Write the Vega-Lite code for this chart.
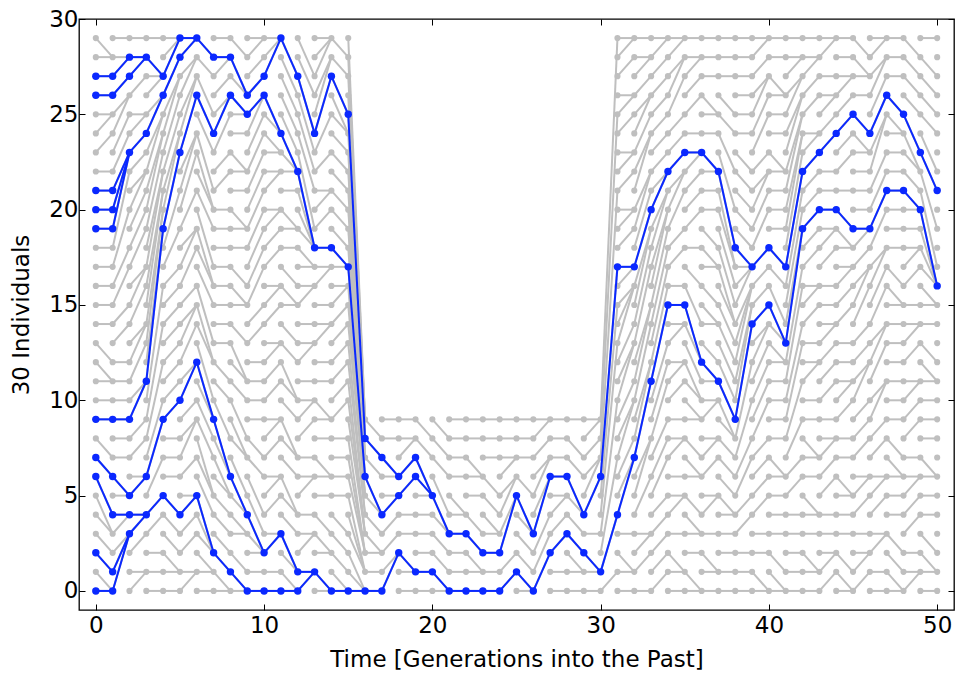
{
"$schema": "https://vega.github.io/schema/vega-lite/v6.json",
"width": 875, "height": 591,
"autosize": {"type": "none"},
"padding": {"left": 79, "top": 19, "right": 2, "bottom": 67},
"background": "white",
"config": {
 "view": {"stroke": "black", "strokeWidth": 1.3},
 "axis": {"labelFont": "DejaVu Sans", "titleFont": "DejaVu Sans", "labelFontSize": 23, "titleFontSize": 23, "titleFontWeight": "normal", "labelColor": "black", "titleColor": "black", "tickColor": "black", "domain": false, "grid": false, "tickWidth": 1}
},
"datasets": {
"gray": [
{"t":0,"i":0,"u":1,"p":0},{"t":0,"i":1,"u":1,"p":0},{"t":0,"i":2,"u":1,"p":1},{"t":0,"i":3,"u":1,"p":2},{"t":0,"i":4,"u":1,"p":3},{"t":0,"i":5,"u":1,"p":3},{"t":0,"i":6,"u":1,"p":4},{"t":0,"i":7,"u":1,"p":6},{"t":0,"i":8,"u":1,"p":7},{"t":0,"i":9,"u":1,"p":9},{"t":0,"i":10,"u":1,"p":10},{"t":0,"i":11,"u":1,"p":11},{"t":0,"i":12,"u":1,"p":11},{"t":0,"i":13,"u":1,"p":12},{"t":0,"i":14,"u":1,"p":14},{"t":0,"i":15,"u":1,"p":15},{"t":0,"i":16,"u":1,"p":16},{"t":0,"i":17,"u":1,"p":17},{"t":0,"i":18,"u":1,"p":18},{"t":0,"i":19,"u":1,"p":19},{"t":0,"i":20,"u":1,"p":20},{"t":0,"i":21,"u":1,"p":21},{"t":0,"i":22,"u":1,"p":22},{"t":0,"i":23,"u":1,"p":24},{"t":0,"i":24,"u":1,"p":25},{"t":0,"i":25,"u":1,"p":25},{"t":0,"i":26,"u":1,"p":26},{"t":0,"i":27,"u":1,"p":27},{"t":0,"i":28,"u":1,"p":28},{"t":0,"i":29,"u":1,"p":28},
{"t":1,"i":0,"u":2,"p":3},{"t":1,"i":1,"u":2,"p":3},{"t":1,"i":2,"u":2,"p":3},{"t":1,"i":3,"u":2,"p":4},{"t":1,"i":4,"u":2,"p":4},{"t":1,"i":5,"u":2,"p":5},{"t":1,"i":6,"u":2,"p":5},{"t":1,"i":7,"u":2,"p":7},{"t":1,"i":8,"u":2,"p":8},{"t":1,"i":9,"u":2,"p":9},{"t":1,"i":10,"u":2,"p":10},{"t":1,"i":11,"u":2,"p":11},{"t":1,"i":12,"u":2,"p":12},{"t":1,"i":13,"u":2,"p":14},{"t":1,"i":14,"u":2,"p":15},{"t":1,"i":15,"u":2,"p":17},{"t":1,"i":16,"u":2,"p":18},{"t":1,"i":17,"u":2,"p":20},{"t":1,"i":18,"u":2,"p":22},{"t":1,"i":19,"u":2,"p":23},{"t":1,"i":20,"u":2,"p":23},{"t":1,"i":21,"u":2,"p":23},{"t":1,"i":22,"u":2,"p":24},{"t":1,"i":23,"u":2,"p":25},{"t":1,"i":24,"u":2,"p":26},{"t":1,"i":25,"u":2,"p":26},{"t":1,"i":26,"u":2,"p":27},{"t":1,"i":27,"u":2,"p":28},{"t":1,"i":28,"u":2,"p":28},{"t":1,"i":29,"u":2,"p":29},
{"t":2,"i":0,"u":3,"p":1},{"t":2,"i":1,"u":3,"p":1},{"t":2,"i":2,"u":3,"p":3},{"t":2,"i":3,"u":3,"p":4},{"t":2,"i":4,"u":3,"p":4},{"t":2,"i":5,"u":3,"p":6},{"t":2,"i":6,"u":3,"p":6},{"t":2,"i":7,"u":3,"p":8},{"t":2,"i":8,"u":3,"p":9},{"t":2,"i":9,"u":3,"p":11},{"t":2,"i":10,"u":3,"p":11},{"t":2,"i":11,"u":3,"p":13},{"t":2,"i":12,"u":3,"p":14},{"t":2,"i":13,"u":3,"p":14},{"t":2,"i":14,"u":3,"p":16},{"t":2,"i":15,"u":3,"p":17},{"t":2,"i":16,"u":3,"p":17},{"t":2,"i":17,"u":3,"p":19},{"t":2,"i":18,"u":3,"p":20},{"t":2,"i":19,"u":3,"p":21},{"t":2,"i":20,"u":3,"p":22},{"t":2,"i":21,"u":3,"p":22},{"t":2,"i":22,"u":3,"p":23},{"t":2,"i":23,"u":3,"p":24},{"t":2,"i":24,"u":3,"p":25},{"t":2,"i":25,"u":3,"p":25},{"t":2,"i":26,"u":3,"p":27},{"t":2,"i":27,"u":3,"p":28},{"t":2,"i":28,"u":3,"p":28},{"t":2,"i":29,"u":3,"p":29},
{"t":3,"i":0,"u":4,"p":0},{"t":3,"i":1,"u":4,"p":1},{"t":3,"i":2,"u":4,"p":2},{"t":3,"i":3,"u":4,"p":4},{"t":3,"i":4,"u":4,"p":5},{"t":3,"i":5,"u":4,"p":7},{"t":3,"i":6,"u":4,"p":9},{"t":3,"i":7,"u":4,"p":10},{"t":3,"i":8,"u":4,"p":12},{"t":3,"i":9,"u":4,"p":14},{"t":3,"i":10,"u":4,"p":16},{"t":3,"i":11,"u":4,"p":19},{"t":3,"i":12,"u":4,"p":19},{"t":3,"i":13,"u":4,"p":20},{"t":3,"i":14,"u":4,"p":20},{"t":3,"i":15,"u":4,"p":21},{"t":3,"i":16,"u":4,"p":21},{"t":3,"i":17,"u":4,"p":22},{"t":3,"i":18,"u":4,"p":22},{"t":3,"i":19,"u":4,"p":23},{"t":3,"i":20,"u":4,"p":24},{"t":3,"i":21,"u":4,"p":24},{"t":3,"i":22,"u":4,"p":25},{"t":3,"i":23,"u":4,"p":25},{"t":3,"i":24,"u":4,"p":26},{"t":3,"i":25,"u":4,"p":26},{"t":3,"i":26,"u":4,"p":27},{"t":3,"i":27,"u":4,"p":27},{"t":3,"i":28,"u":4,"p":27},{"t":3,"i":29,"u":4,"p":29},
{"t":4,"i":0,"u":5,"p":0},{"t":4,"i":1,"u":5,"p":1},{"t":4,"i":2,"u":5,"p":1},{"t":4,"i":3,"u":5,"p":2},{"t":4,"i":4,"u":5,"p":3},{"t":4,"i":5,"u":5,"p":4},{"t":4,"i":6,"u":5,"p":6},{"t":4,"i":7,"u":5,"p":7},{"t":4,"i":8,"u":5,"p":8},{"t":4,"i":9,"u":5,"p":10},{"t":4,"i":10,"u":5,"p":11},{"t":4,"i":11,"u":5,"p":12},{"t":4,"i":12,"u":5,"p":13},{"t":4,"i":13,"u":5,"p":14},{"t":4,"i":14,"u":5,"p":15},{"t":4,"i":15,"u":5,"p":16},{"t":4,"i":16,"u":5,"p":17},{"t":4,"i":17,"u":5,"p":19},{"t":4,"i":18,"u":5,"p":21},{"t":4,"i":19,"u":5,"p":23},{"t":4,"i":20,"u":5,"p":24},{"t":4,"i":21,"u":5,"p":24},{"t":4,"i":22,"u":5,"p":25},{"t":4,"i":23,"u":5,"p":26},{"t":4,"i":24,"u":5,"p":27},{"t":4,"i":25,"u":5,"p":27},{"t":4,"i":26,"u":5,"p":28},{"t":4,"i":27,"u":5,"p":29},{"t":4,"i":28,"u":5,"p":29},{"t":4,"i":29,"u":5,"p":29},
{"t":5,"i":0,"u":6,"p":1},{"t":5,"i":1,"u":6,"p":1},{"t":5,"i":2,"u":6,"p":3},{"t":5,"i":3,"u":6,"p":4},{"t":5,"i":4,"u":6,"p":5},{"t":5,"i":5,"u":6,"p":5},{"t":5,"i":6,"u":6,"p":7},{"t":5,"i":7,"u":6,"p":9},{"t":5,"i":8,"u":6,"p":9},{"t":5,"i":9,"u":6,"p":10},{"t":5,"i":10,"u":6,"p":12},{"t":5,"i":11,"u":6,"p":12},{"t":5,"i":12,"u":6,"p":14},{"t":5,"i":13,"u":6,"p":15},{"t":5,"i":14,"u":6,"p":15},{"t":5,"i":15,"u":6,"p":16},{"t":5,"i":16,"u":6,"p":18},{"t":5,"i":17,"u":6,"p":19},{"t":5,"i":18,"u":6,"p":19},{"t":5,"i":19,"u":6,"p":21},{"t":5,"i":20,"u":6,"p":23},{"t":5,"i":21,"u":6,"p":24},{"t":5,"i":22,"u":6,"p":24},{"t":5,"i":23,"u":6,"p":26},{"t":5,"i":24,"u":6,"p":27},{"t":5,"i":25,"u":6,"p":27},{"t":5,"i":26,"u":6,"p":28},{"t":5,"i":27,"u":6,"p":28},{"t":5,"i":28,"u":6,"p":29},{"t":5,"i":29,"u":6,"p":29},
{"t":6,"i":0,"u":7,"p":0},{"t":6,"i":1,"u":7,"p":1},{"t":6,"i":2,"u":7,"p":1},{"t":6,"i":3,"u":7,"p":2},{"t":6,"i":4,"u":7,"p":2},{"t":6,"i":5,"u":7,"p":2},{"t":6,"i":6,"u":7,"p":4},{"t":6,"i":7,"u":7,"p":5},{"t":6,"i":8,"u":7,"p":5},{"t":6,"i":9,"u":7,"p":7},{"t":6,"i":10,"u":7,"p":8},{"t":6,"i":11,"u":7,"p":9},{"t":6,"i":12,"u":7,"p":9},{"t":6,"i":13,"u":7,"p":10},{"t":6,"i":14,"u":7,"p":12},{"t":6,"i":15,"u":7,"p":12},{"t":6,"i":16,"u":7,"p":13},{"t":6,"i":17,"u":7,"p":15},{"t":6,"i":18,"u":7,"p":16},{"t":6,"i":19,"u":7,"p":16},{"t":6,"i":20,"u":7,"p":17},{"t":6,"i":21,"u":7,"p":19},{"t":6,"i":22,"u":7,"p":20},{"t":6,"i":23,"u":7,"p":20},{"t":6,"i":24,"u":7,"p":21},{"t":6,"i":25,"u":7,"p":23},{"t":6,"i":26,"u":7,"p":24},{"t":6,"i":27,"u":7,"p":25},{"t":6,"i":28,"u":7,"p":27},{"t":6,"i":29,"u":7,"p":28},
{"t":7,"i":0,"u":8,"p":0},{"t":7,"i":1,"u":8,"p":0},{"t":7,"i":2,"u":8,"p":1},{"t":7,"i":3,"u":8,"p":2},{"t":7,"i":4,"u":8,"p":3},{"t":7,"i":5,"u":8,"p":4},{"t":7,"i":6,"u":8,"p":5},{"t":7,"i":7,"u":8,"p":5},{"t":7,"i":8,"u":8,"p":6},{"t":7,"i":9,"u":8,"p":6},{"t":7,"i":10,"u":8,"p":8},{"t":7,"i":11,"u":8,"p":10},{"t":7,"i":12,"u":8,"p":11},{"t":7,"i":13,"u":8,"p":13},{"t":7,"i":14,"u":8,"p":14},{"t":7,"i":15,"u":8,"p":15},{"t":7,"i":16,"u":8,"p":16},{"t":7,"i":17,"u":8,"p":17},{"t":7,"i":18,"u":8,"p":18},{"t":7,"i":19,"u":8,"p":19},{"t":7,"i":20,"u":8,"p":20},{"t":7,"i":21,"u":8,"p":22},{"t":7,"i":22,"u":8,"p":23},{"t":7,"i":23,"u":8,"p":25},{"t":7,"i":24,"u":8,"p":26},{"t":7,"i":25,"u":8,"p":26},{"t":7,"i":26,"u":8,"p":27},{"t":7,"i":27,"u":8,"p":28},{"t":7,"i":28,"u":8,"p":28},{"t":7,"i":29,"u":8,"p":29},
{"t":8,"i":0,"u":9,"p":0},{"t":8,"i":1,"u":9,"p":0},{"t":8,"i":2,"u":9,"p":1},{"t":8,"i":3,"u":9,"p":3},{"t":8,"i":4,"u":9,"p":3},{"t":8,"i":5,"u":9,"p":4},{"t":8,"i":6,"u":9,"p":4},{"t":8,"i":7,"u":9,"p":5},{"t":8,"i":8,"u":9,"p":7},{"t":8,"i":9,"u":9,"p":7},{"t":8,"i":10,"u":9,"p":8},{"t":8,"i":11,"u":9,"p":10},{"t":8,"i":12,"u":9,"p":11},{"t":8,"i":13,"u":9,"p":11},{"t":8,"i":14,"u":9,"p":13},{"t":8,"i":15,"u":9,"p":15},{"t":8,"i":16,"u":9,"p":15},{"t":8,"i":17,"u":9,"p":16},{"t":8,"i":18,"u":9,"p":18},{"t":8,"i":19,"u":9,"p":19},{"t":8,"i":20,"u":9,"p":19},{"t":8,"i":21,"u":9,"p":21},{"t":8,"i":22,"u":9,"p":22},{"t":8,"i":23,"u":9,"p":22},{"t":8,"i":24,"u":9,"p":24},{"t":8,"i":25,"u":9,"p":25},{"t":8,"i":26,"u":9,"p":25},{"t":8,"i":27,"u":9,"p":26},{"t":8,"i":28,"u":9,"p":26},{"t":8,"i":29,"u":9,"p":28},
{"t":9,"i":0,"u":10,"p":0},{"t":9,"i":1,"u":10,"p":1},{"t":9,"i":2,"u":10,"p":2},{"t":9,"i":3,"u":10,"p":2},{"t":9,"i":4,"u":10,"p":2},{"t":9,"i":5,"u":10,"p":3},{"t":9,"i":6,"u":10,"p":4},{"t":9,"i":7,"u":10,"p":6},{"t":9,"i":8,"u":10,"p":7},{"t":9,"i":9,"u":10,"p":9},{"t":9,"i":10,"u":10,"p":10},{"t":9,"i":11,"u":10,"p":11},{"t":9,"i":12,"u":10,"p":12},{"t":9,"i":13,"u":10,"p":14},{"t":9,"i":14,"u":10,"p":15},{"t":9,"i":15,"u":10,"p":17},{"t":9,"i":16,"u":10,"p":18},{"t":9,"i":17,"u":10,"p":19},{"t":9,"i":18,"u":10,"p":20},{"t":9,"i":19,"u":10,"p":21},{"t":9,"i":20,"u":10,"p":22},{"t":9,"i":21,"u":10,"p":23},{"t":9,"i":22,"u":10,"p":24},{"t":9,"i":23,"u":10,"p":25},{"t":9,"i":24,"u":10,"p":26},{"t":9,"i":25,"u":10,"p":26},{"t":9,"i":26,"u":10,"p":27},{"t":9,"i":27,"u":10,"p":28},{"t":9,"i":28,"u":10,"p":29},{"t":9,"i":29,"u":10,"p":29},
{"t":10,"i":0,"u":11,"p":0},{"t":10,"i":1,"u":11,"p":1},{"t":10,"i":2,"u":11,"p":3},{"t":10,"i":3,"u":11,"p":3},{"t":10,"i":4,"u":11,"p":5},{"t":10,"i":5,"u":11,"p":6},{"t":10,"i":6,"u":11,"p":6},{"t":10,"i":7,"u":11,"p":8},{"t":10,"i":8,"u":11,"p":9},{"t":10,"i":9,"u":11,"p":9},{"t":10,"i":10,"u":11,"p":11},{"t":10,"i":11,"u":11,"p":12},{"t":10,"i":12,"u":11,"p":13},{"t":10,"i":13,"u":11,"p":13},{"t":10,"i":14,"u":11,"p":15},{"t":10,"i":15,"u":11,"p":16},{"t":10,"i":16,"u":11,"p":16},{"t":10,"i":17,"u":11,"p":18},{"t":10,"i":18,"u":11,"p":19},{"t":10,"i":19,"u":11,"p":20},{"t":10,"i":20,"u":11,"p":20},{"t":10,"i":21,"u":11,"p":22},{"t":10,"i":22,"u":11,"p":22},{"t":10,"i":23,"u":11,"p":23},{"t":10,"i":24,"u":11,"p":23},{"t":10,"i":25,"u":11,"p":24},{"t":10,"i":26,"u":11,"p":24},{"t":10,"i":27,"u":11,"p":29},{"t":10,"i":28,"u":11,"p":29},{"t":10,"i":29,"u":11,"p":29},
{"t":11,"i":0,"u":12,"p":0},{"t":11,"i":1,"u":12,"p":0},{"t":11,"i":2,"u":12,"p":1},{"t":11,"i":3,"u":12,"p":1},{"t":11,"i":4,"u":12,"p":3},{"t":11,"i":5,"u":12,"p":4},{"t":11,"i":6,"u":12,"p":4},{"t":11,"i":7,"u":12,"p":6},{"t":11,"i":8,"u":12,"p":7},{"t":11,"i":9,"u":12,"p":7},{"t":11,"i":10,"u":12,"p":9},{"t":11,"i":11,"u":12,"p":10},{"t":11,"i":12,"u":12,"p":10},{"t":11,"i":13,"u":12,"p":12},{"t":11,"i":14,"u":12,"p":13},{"t":11,"i":15,"u":12,"p":15},{"t":11,"i":16,"u":12,"p":15},{"t":11,"i":17,"u":12,"p":16},{"t":11,"i":18,"u":12,"p":18},{"t":11,"i":19,"u":12,"p":19},{"t":11,"i":20,"u":12,"p":19},{"t":11,"i":21,"u":12,"p":21},{"t":11,"i":22,"u":12,"p":22},{"t":11,"i":23,"u":12,"p":22},{"t":11,"i":24,"u":12,"p":22},{"t":11,"i":25,"u":12,"p":23},{"t":11,"i":26,"u":12,"p":24},{"t":11,"i":27,"u":12,"p":25},{"t":11,"i":28,"u":12,"p":26},{"t":11,"i":29,"u":12,"p":27},
{"t":12,"i":0,"u":13,"p":1},{"t":12,"i":1,"u":13,"p":1},{"t":12,"i":2,"u":13,"p":3},{"t":12,"i":3,"u":13,"p":3},{"t":12,"i":4,"u":13,"p":4},{"t":12,"i":5,"u":13,"p":6},{"t":12,"i":6,"u":13,"p":6},{"t":12,"i":7,"u":13,"p":7},{"t":12,"i":8,"u":13,"p":9},{"t":12,"i":9,"u":13,"p":10},{"t":12,"i":10,"u":13,"p":10},{"t":12,"i":11,"u":13,"p":11},{"t":12,"i":12,"u":13,"p":13},{"t":12,"i":13,"u":13,"p":13},{"t":12,"i":14,"u":13,"p":14},{"t":12,"i":15,"u":13,"p":16},{"t":12,"i":16,"u":13,"p":16},{"t":12,"i":17,"u":13,"p":17},{"t":12,"i":18,"u":13,"p":17},{"t":12,"i":19,"u":13,"p":18},{"t":12,"i":20,"u":13,"p":18},{"t":12,"i":21,"u":13,"p":18},{"t":12,"i":22,"u":13,"p":18},{"t":12,"i":23,"u":13,"p":19},{"t":12,"i":24,"u":13,"p":21},{"t":12,"i":25,"u":13,"p":22},{"t":12,"i":26,"u":13,"p":23},{"t":12,"i":27,"u":13,"p":24},{"t":12,"i":28,"u":13,"p":26},{"t":12,"i":29,"u":13,"p":27},
{"t":13,"i":0,"u":14,"p":0},{"t":13,"i":1,"u":14,"p":0},{"t":13,"i":2,"u":14,"p":2},{"t":13,"i":3,"u":14,"p":2},{"t":13,"i":4,"u":14,"p":3},{"t":13,"i":5,"u":14,"p":5},{"t":13,"i":6,"u":14,"p":6},{"t":13,"i":7,"u":14,"p":6},{"t":13,"i":8,"u":14,"p":8},{"t":13,"i":9,"u":14,"p":9},{"t":13,"i":10,"u":14,"p":9},{"t":13,"i":11,"u":14,"p":11},{"t":13,"i":12,"u":14,"p":12},{"t":13,"i":13,"u":14,"p":14},{"t":13,"i":14,"u":14,"p":14},{"t":13,"i":15,"u":14,"p":15},{"t":13,"i":16,"u":14,"p":17},{"t":13,"i":17,"u":14,"p":17},{"t":13,"i":18,"u":14,"p":18},{"t":13,"i":19,"u":14,"p":20},{"t":13,"i":20,"u":14,"p":21},{"t":13,"i":21,"u":14,"p":21},{"t":13,"i":22,"u":14,"p":23},{"t":13,"i":23,"u":14,"p":25},{"t":13,"i":24,"u":14,"p":27},{"t":13,"i":25,"u":14,"p":28},{"t":13,"i":26,"u":14,"p":28},{"t":13,"i":27,"u":14,"p":29},{"t":13,"i":28,"u":14,"p":29},{"t":13,"i":29,"u":14,"p":29},
{"t":14,"i":0,"u":15,"p":0},{"t":14,"i":1,"u":15,"p":0},{"t":14,"i":2,"u":15,"p":1},{"t":14,"i":3,"u":15,"p":2},{"t":14,"i":4,"u":15,"p":3},{"t":14,"i":5,"u":15,"p":5},{"t":14,"i":6,"u":15,"p":6},{"t":14,"i":7,"u":15,"p":7},{"t":14,"i":8,"u":15,"p":8},{"t":14,"i":9,"u":15,"p":10},{"t":14,"i":10,"u":15,"p":11},{"t":14,"i":11,"u":15,"p":12},{"t":14,"i":12,"u":15,"p":13},{"t":14,"i":13,"u":15,"p":14},{"t":14,"i":14,"u":15,"p":15},{"t":14,"i":15,"u":15,"p":16},{"t":14,"i":16,"u":15,"p":16},{"t":14,"i":17,"u":15,"p":17},{"t":14,"i":18,"u":15,"p":17},{"t":14,"i":19,"u":15,"p":18},{"t":14,"i":20,"u":15,"p":19},{"t":14,"i":21,"u":15,"p":20},{"t":14,"i":22,"u":15,"p":21},{"t":14,"i":23,"u":15,"p":22},{"t":14,"i":24,"u":15,"p":23},{"t":14,"i":25,"u":15,"p":24},{"t":14,"i":26,"u":15,"p":24},{"t":14,"i":27,"u":15,"p":25},{"t":14,"i":28,"u":15,"p":27},{"t":14,"i":29,"u":15,"p":28},
{"t":15,"i":0,"u":16,"p":0},{"t":15,"i":1,"u":16,"p":0},{"t":15,"i":2,"u":16,"p":0},{"t":15,"i":3,"u":16,"p":1},{"t":15,"i":4,"u":16,"p":1},{"t":15,"i":5,"u":16,"p":1},{"t":15,"i":6,"u":16,"p":2},{"t":15,"i":7,"u":16,"p":2},{"t":15,"i":8,"u":16,"p":2},{"t":15,"i":9,"u":16,"p":3},{"t":15,"i":10,"u":16,"p":3},{"t":15,"i":11,"u":16,"p":3},{"t":15,"i":12,"u":16,"p":4},{"t":15,"i":13,"u":16,"p":4},{"t":15,"i":14,"u":16,"p":5},{"t":15,"i":15,"u":16,"p":5},{"t":15,"i":16,"u":16,"p":5},{"t":15,"i":17,"u":16,"p":6},{"t":15,"i":18,"u":16,"p":6},{"t":15,"i":19,"u":16,"p":6},{"t":15,"i":20,"u":16,"p":7},{"t":15,"i":21,"u":16,"p":7},{"t":15,"i":22,"u":16,"p":7},{"t":15,"i":23,"u":16,"p":7},{"t":15,"i":24,"u":16,"p":8},{"t":15,"i":25,"u":16,"p":8},{"t":15,"i":26,"u":16,"p":8},{"t":15,"i":27,"u":16,"p":9},{"t":15,"i":28,"u":16,"p":9},{"t":15,"i":29,"u":16,"p":9},
{"t":16,"i":0,"u":17,"p":0},{"t":16,"i":1,"u":17,"p":1},{"t":16,"i":2,"u":17,"p":2},{"t":16,"i":3,"u":17,"p":2},{"t":16,"i":4,"u":17,"p":3},{"t":16,"i":5,"u":17,"p":4},{"t":16,"i":6,"u":17,"p":4},{"t":16,"i":7,"u":17,"p":6},{"t":16,"i":8,"u":17,"p":7},{"t":16,"i":9,"u":17,"p":8},
{"t":17,"i":0,"u":18,"p":2},{"t":17,"i":1,"u":18,"p":2},{"t":17,"i":2,"u":18,"p":3},{"t":17,"i":3,"u":18,"p":4},{"t":17,"i":4,"u":18,"p":5},{"t":17,"i":5,"u":18,"p":5},{"t":17,"i":6,"u":18,"p":6},{"t":17,"i":7,"u":18,"p":6},{"t":17,"i":8,"u":18,"p":8},{"t":17,"i":9,"u":18,"p":9},
{"t":18,"i":0,"u":19,"p":0},{"t":18,"i":1,"u":19,"p":1},{"t":18,"i":2,"u":19,"p":1},{"t":18,"i":3,"u":19,"p":3},{"t":18,"i":4,"u":19,"p":4},{"t":18,"i":5,"u":19,"p":6},{"t":18,"i":6,"u":19,"p":7},{"t":18,"i":7,"u":19,"p":8},{"t":18,"i":8,"u":19,"p":8},{"t":18,"i":9,"u":19,"p":9},
{"t":19,"i":0,"u":20,"p":0},{"t":19,"i":1,"u":20,"p":1},{"t":19,"i":2,"u":20,"p":2},{"t":19,"i":3,"u":20,"p":3},{"t":19,"i":4,"u":20,"p":4},{"t":19,"i":5,"u":20,"p":5},{"t":19,"i":6,"u":20,"p":5},{"t":19,"i":7,"u":20,"p":5},{"t":19,"i":8,"u":20,"p":7},{"t":19,"i":9,"u":20,"p":8},
{"t":20,"i":0,"u":21,"p":0},{"t":20,"i":1,"u":21,"p":0},{"t":20,"i":2,"u":21,"p":1},{"t":20,"i":3,"u":21,"p":2},{"t":20,"i":4,"u":21,"p":3},{"t":20,"i":5,"u":21,"p":3},{"t":20,"i":6,"u":21,"p":4},{"t":20,"i":7,"u":21,"p":6},{"t":20,"i":8,"u":21,"p":7},{"t":20,"i":9,"u":21,"p":8},
{"t":21,"i":0,"u":22,"p":0},{"t":21,"i":1,"u":22,"p":1},{"t":21,"i":2,"u":22,"p":2},{"t":21,"i":3,"u":22,"p":3},{"t":21,"i":4,"u":22,"p":4},{"t":21,"i":5,"u":22,"p":4},{"t":21,"i":6,"u":22,"p":6},{"t":21,"i":7,"u":22,"p":7},{"t":21,"i":8,"u":22,"p":8},{"t":21,"i":9,"u":22,"p":9},
{"t":22,"i":0,"u":23,"p":0},{"t":22,"i":1,"u":23,"p":1},{"t":22,"i":2,"u":23,"p":1},{"t":22,"i":3,"u":23,"p":2},{"t":22,"i":4,"u":23,"p":3},{"t":22,"i":5,"u":23,"p":5},{"t":22,"i":6,"u":23,"p":6},{"t":22,"i":7,"u":23,"p":6},{"t":22,"i":8,"u":23,"p":8},{"t":22,"i":9,"u":23,"p":9},
{"t":23,"i":0,"u":24,"p":0},{"t":23,"i":1,"u":24,"p":1},{"t":23,"i":2,"u":24,"p":2},{"t":23,"i":3,"u":24,"p":3},{"t":23,"i":4,"u":24,"p":3},{"t":23,"i":5,"u":24,"p":4},{"t":23,"i":6,"u":24,"p":5},{"t":23,"i":7,"u":24,"p":7},{"t":23,"i":8,"u":24,"p":8},{"t":23,"i":9,"u":24,"p":9},
{"t":24,"i":0,"u":25,"p":1},{"t":24,"i":1,"u":25,"p":2},{"t":24,"i":2,"u":25,"p":5},{"t":24,"i":3,"u":25,"p":5},{"t":24,"i":4,"u":25,"p":6},{"t":24,"i":5,"u":25,"p":6},{"t":24,"i":6,"u":25,"p":7},{"t":24,"i":7,"u":25,"p":7},{"t":24,"i":8,"u":25,"p":8},{"t":24,"i":9,"u":25,"p":9},
{"t":25,"i":0,"u":26,"p":0},{"t":25,"i":1,"u":26,"p":0},{"t":25,"i":2,"u":26,"p":1},{"t":25,"i":3,"u":26,"p":2},{"t":25,"i":4,"u":26,"p":3},{"t":25,"i":5,"u":26,"p":3},{"t":25,"i":6,"u":26,"p":5},{"t":25,"i":7,"u":26,"p":7},{"t":25,"i":8,"u":26,"p":8},{"t":25,"i":9,"u":26,"p":9},
{"t":26,"i":0,"u":27,"p":2},{"t":26,"i":1,"u":27,"p":3},{"t":26,"i":2,"u":27,"p":4},{"t":26,"i":3,"u":27,"p":6},{"t":26,"i":4,"u":27,"p":6},{"t":26,"i":5,"u":27,"p":7},{"t":26,"i":6,"u":27,"p":7},{"t":26,"i":7,"u":27,"p":8},{"t":26,"i":8,"u":27,"p":9},{"t":26,"i":9,"u":27,"p":9},
{"t":27,"i":0,"u":28,"p":0},{"t":27,"i":1,"u":28,"p":1},{"t":27,"i":2,"u":28,"p":3},{"t":27,"i":3,"u":28,"p":4},{"t":27,"i":4,"u":28,"p":5},{"t":27,"i":5,"u":28,"p":5},{"t":27,"i":6,"u":28,"p":6},{"t":27,"i":7,"u":28,"p":7},{"t":27,"i":8,"u":28,"p":8},{"t":27,"i":9,"u":28,"p":9},
{"t":28,"i":0,"u":29,"p":0},{"t":28,"i":1,"u":29,"p":1},{"t":28,"i":2,"u":29,"p":1},{"t":28,"i":3,"u":29,"p":2},{"t":28,"i":4,"u":29,"p":3},{"t":28,"i":5,"u":29,"p":4},{"t":28,"i":6,"u":29,"p":4},{"t":28,"i":7,"u":29,"p":6},{"t":28,"i":8,"u":29,"p":7},{"t":28,"i":9,"u":29,"p":9},
{"t":29,"i":0,"u":30,"p":0},{"t":29,"i":1,"u":30,"p":1},{"t":29,"i":2,"u":30,"p":1},{"t":29,"i":3,"u":30,"p":3},{"t":29,"i":4,"u":30,"p":6},{"t":29,"i":5,"u":30,"p":7},{"t":29,"i":6,"u":30,"p":7},{"t":29,"i":7,"u":30,"p":8},{"t":29,"i":8,"u":30,"p":9},{"t":29,"i":9,"u":30,"p":9},
{"t":30,"i":0,"u":31,"p":1},{"t":30,"i":1,"u":31,"p":4},{"t":30,"i":2,"u":31,"p":7},{"t":30,"i":3,"u":31,"p":10},{"t":30,"i":4,"u":31,"p":13},{"t":30,"i":5,"u":31,"p":15},{"t":30,"i":6,"u":31,"p":17},{"t":30,"i":7,"u":31,"p":21},{"t":30,"i":8,"u":31,"p":25},{"t":30,"i":9,"u":31,"p":29},
{"t":31,"i":0,"u":32,"p":0},{"t":31,"i":1,"u":32,"p":1},{"t":31,"i":2,"u":32,"p":1},{"t":31,"i":3,"u":32,"p":3},{"t":31,"i":4,"u":32,"p":7},{"t":31,"i":5,"u":32,"p":7},{"t":31,"i":6,"u":32,"p":8},{"t":31,"i":7,"u":32,"p":10},{"t":31,"i":8,"u":32,"p":10},{"t":31,"i":9,"u":32,"p":11},{"t":31,"i":10,"u":32,"p":13},{"t":31,"i":11,"u":32,"p":13},{"t":31,"i":12,"u":32,"p":14},{"t":31,"i":13,"u":32,"p":16},{"t":31,"i":14,"u":32,"p":16},{"t":31,"i":15,"u":32,"p":16},{"t":31,"i":16,"u":32,"p":17},{"t":31,"i":17,"u":32,"p":17},{"t":31,"i":18,"u":32,"p":19},{"t":31,"i":19,"u":32,"p":20},{"t":31,"i":20,"u":32,"p":20},{"t":31,"i":21,"u":32,"p":22},{"t":31,"i":22,"u":32,"p":23},{"t":31,"i":23,"u":32,"p":23},{"t":31,"i":24,"u":32,"p":25},{"t":31,"i":25,"u":32,"p":26},{"t":31,"i":26,"u":32,"p":26},{"t":31,"i":27,"u":32,"p":28},{"t":31,"i":28,"u":32,"p":29},{"t":31,"i":29,"u":32,"p":29},
{"t":32,"i":0,"u":33,"p":0},{"t":32,"i":1,"u":33,"p":2},{"t":32,"i":2,"u":33,"p":3},{"t":32,"i":3,"u":33,"p":3},{"t":32,"i":4,"u":33,"p":6},{"t":32,"i":5,"u":33,"p":8},{"t":32,"i":6,"u":33,"p":8},{"t":32,"i":7,"u":33,"p":11},{"t":32,"i":8,"u":33,"p":12},{"t":32,"i":9,"u":33,"p":12},{"t":32,"i":10,"u":33,"p":14},{"t":32,"i":11,"u":33,"p":15},{"t":32,"i":12,"u":33,"p":15},{"t":32,"i":13,"u":33,"p":17},{"t":32,"i":14,"u":33,"p":18},{"t":32,"i":15,"u":33,"p":19},{"t":32,"i":16,"u":33,"p":19},{"t":32,"i":17,"u":33,"p":20},{"t":32,"i":18,"u":33,"p":21},{"t":32,"i":19,"u":33,"p":22},{"t":32,"i":20,"u":33,"p":22},{"t":32,"i":21,"u":33,"p":24},{"t":32,"i":22,"u":33,"p":24},{"t":32,"i":23,"u":33,"p":25},{"t":32,"i":24,"u":33,"p":26},{"t":32,"i":25,"u":33,"p":26},{"t":32,"i":26,"u":33,"p":27},{"t":32,"i":27,"u":33,"p":28},{"t":32,"i":28,"u":33,"p":28},{"t":32,"i":29,"u":33,"p":29},
{"t":33,"i":0,"u":34,"p":1},{"t":33,"i":1,"u":34,"p":2},{"t":33,"i":2,"u":34,"p":3},{"t":33,"i":3,"u":34,"p":4},{"t":33,"i":4,"u":34,"p":5},{"t":33,"i":5,"u":34,"p":7},{"t":33,"i":6,"u":34,"p":8},{"t":33,"i":7,"u":34,"p":9},{"t":33,"i":8,"u":34,"p":11},{"t":33,"i":9,"u":34,"p":12},{"t":33,"i":10,"u":34,"p":13},{"t":33,"i":11,"u":34,"p":15},{"t":33,"i":12,"u":34,"p":16},{"t":33,"i":13,"u":34,"p":17},{"t":33,"i":14,"u":34,"p":18},{"t":33,"i":15,"u":34,"p":19},{"t":33,"i":16,"u":34,"p":20},{"t":33,"i":17,"u":34,"p":20},{"t":33,"i":18,"u":34,"p":21},{"t":33,"i":19,"u":34,"p":21},{"t":33,"i":20,"u":34,"p":22},{"t":33,"i":21,"u":34,"p":22},{"t":33,"i":22,"u":34,"p":23},{"t":33,"i":23,"u":34,"p":24},{"t":33,"i":24,"u":34,"p":25},{"t":33,"i":25,"u":34,"p":26},{"t":33,"i":26,"u":34,"p":27},{"t":33,"i":27,"u":34,"p":28},{"t":33,"i":28,"u":34,"p":29},{"t":33,"i":29,"u":34,"p":29},
{"t":34,"i":0,"u":35,"p":0},{"t":34,"i":1,"u":35,"p":1},{"t":34,"i":2,"u":35,"p":1},{"t":34,"i":3,"u":35,"p":3},{"t":34,"i":4,"u":35,"p":5},{"t":34,"i":5,"u":35,"p":5},{"t":34,"i":6,"u":35,"p":6},{"t":34,"i":7,"u":35,"p":8},{"t":34,"i":8,"u":35,"p":8},{"t":34,"i":9,"u":35,"p":9},{"t":34,"i":10,"u":35,"p":11},{"t":34,"i":11,"u":35,"p":12},{"t":34,"i":12,"u":35,"p":12},{"t":34,"i":13,"u":35,"p":14},{"t":34,"i":14,"u":35,"p":14},{"t":34,"i":15,"u":35,"p":15},{"t":34,"i":16,"u":35,"p":16},{"t":34,"i":17,"u":35,"p":18},{"t":34,"i":18,"u":35,"p":19},{"t":34,"i":19,"u":35,"p":21},{"t":34,"i":20,"u":35,"p":22},{"t":34,"i":21,"u":35,"p":22},{"t":34,"i":22,"u":35,"p":23},{"t":34,"i":23,"u":35,"p":24},{"t":34,"i":24,"u":35,"p":25},{"t":34,"i":25,"u":35,"p":27},{"t":34,"i":26,"u":35,"p":28},{"t":34,"i":27,"u":35,"p":28},{"t":34,"i":28,"u":35,"p":29},{"t":34,"i":29,"u":35,"p":29},
{"t":35,"i":0,"u":36,"p":0},{"t":35,"i":1,"u":36,"p":0},{"t":35,"i":2,"u":36,"p":2},{"t":35,"i":3,"u":36,"p":3},{"t":35,"i":4,"u":36,"p":3},{"t":35,"i":5,"u":36,"p":4},{"t":35,"i":6,"u":36,"p":6},{"t":35,"i":7,"u":36,"p":6},{"t":35,"i":8,"u":36,"p":7},{"t":35,"i":9,"u":36,"p":9},{"t":35,"i":10,"u":36,"p":9},{"t":35,"i":11,"u":36,"p":10},{"t":35,"i":12,"u":36,"p":10},{"t":35,"i":13,"u":36,"p":11},{"t":35,"i":14,"u":36,"p":12},{"t":35,"i":15,"u":36,"p":12},{"t":35,"i":16,"u":36,"p":14},{"t":35,"i":17,"u":36,"p":16},{"t":35,"i":18,"u":36,"p":18},{"t":35,"i":19,"u":36,"p":20},{"t":35,"i":20,"u":36,"p":21},{"t":35,"i":21,"u":36,"p":22},{"t":35,"i":22,"u":36,"p":23},{"t":35,"i":23,"u":36,"p":23},{"t":35,"i":24,"u":36,"p":24},{"t":35,"i":25,"u":36,"p":26},{"t":35,"i":26,"u":36,"p":27},{"t":35,"i":27,"u":36,"p":28},{"t":35,"i":28,"u":36,"p":28},{"t":35,"i":29,"u":36,"p":29},
{"t":36,"i":0,"u":37,"p":0},{"t":36,"i":1,"u":37,"p":1},{"t":36,"i":2,"u":37,"p":1},{"t":36,"i":3,"u":37,"p":3},{"t":36,"i":4,"u":37,"p":5},{"t":36,"i":5,"u":37,"p":5},{"t":36,"i":6,"u":37,"p":7},{"t":36,"i":7,"u":37,"p":8},{"t":36,"i":8,"u":37,"p":8},{"t":36,"i":9,"u":37,"p":10},{"t":36,"i":10,"u":37,"p":10},{"t":36,"i":11,"u":37,"p":11},{"t":36,"i":12,"u":37,"p":11},{"t":36,"i":13,"u":37,"p":12},{"t":36,"i":14,"u":37,"p":14},{"t":36,"i":15,"u":37,"p":14},{"t":36,"i":16,"u":37,"p":15},{"t":36,"i":17,"u":37,"p":17},{"t":36,"i":18,"u":37,"p":17},{"t":36,"i":19,"u":37,"p":18},{"t":36,"i":20,"u":37,"p":20},{"t":36,"i":21,"u":37,"p":21},{"t":36,"i":22,"u":37,"p":22},{"t":36,"i":23,"u":37,"p":22},{"t":36,"i":24,"u":37,"p":24},{"t":36,"i":25,"u":37,"p":25},{"t":36,"i":26,"u":37,"p":25},{"t":36,"i":27,"u":37,"p":27},{"t":36,"i":28,"u":37,"p":28},{"t":36,"i":29,"u":37,"p":29},
{"t":37,"i":0,"u":38,"p":0},{"t":37,"i":1,"u":38,"p":1},{"t":37,"i":2,"u":38,"p":2},{"t":37,"i":3,"u":38,"p":3},{"t":37,"i":4,"u":38,"p":4},{"t":37,"i":5,"u":38,"p":4},{"t":37,"i":6,"u":38,"p":5},{"t":37,"i":7,"u":38,"p":6},{"t":37,"i":8,"u":38,"p":7},{"t":37,"i":9,"u":38,"p":8},{"t":37,"i":10,"u":38,"p":8},{"t":37,"i":11,"u":38,"p":9},{"t":37,"i":12,"u":38,"p":10},{"t":37,"i":13,"u":38,"p":11},{"t":37,"i":14,"u":38,"p":12},{"t":37,"i":15,"u":38,"p":13},{"t":37,"i":16,"u":38,"p":14},{"t":37,"i":17,"u":38,"p":14},{"t":37,"i":18,"u":38,"p":15},{"t":37,"i":19,"u":38,"p":16},{"t":37,"i":20,"u":38,"p":17},{"t":37,"i":21,"u":38,"p":17},{"t":37,"i":22,"u":38,"p":18},{"t":37,"i":23,"u":38,"p":20},{"t":37,"i":24,"u":38,"p":22},{"t":37,"i":25,"u":38,"p":24},{"t":37,"i":26,"u":38,"p":25},{"t":37,"i":27,"u":38,"p":27},{"t":37,"i":28,"u":38,"p":28},{"t":37,"i":29,"u":38,"p":29},
{"t":38,"i":0,"u":39,"p":0},{"t":38,"i":1,"u":39,"p":1},{"t":38,"i":2,"u":39,"p":2},{"t":38,"i":3,"u":39,"p":4},{"t":38,"i":4,"u":39,"p":5},{"t":38,"i":5,"u":39,"p":7},{"t":38,"i":6,"u":39,"p":8},{"t":38,"i":7,"u":39,"p":10},{"t":38,"i":8,"u":39,"p":12},{"t":38,"i":9,"u":39,"p":14},{"t":38,"i":10,"u":39,"p":15},{"t":38,"i":11,"u":39,"p":15},{"t":38,"i":12,"u":39,"p":16},{"t":38,"i":13,"u":39,"p":16},{"t":38,"i":14,"u":39,"p":16},{"t":38,"i":15,"u":39,"p":17},{"t":38,"i":16,"u":39,"p":17},{"t":38,"i":17,"u":39,"p":17},{"t":38,"i":18,"u":39,"p":17},{"t":38,"i":19,"u":39,"p":18},{"t":38,"i":20,"u":39,"p":19},{"t":38,"i":21,"u":39,"p":20},{"t":38,"i":22,"u":39,"p":21},{"t":38,"i":23,"u":39,"p":22},{"t":38,"i":24,"u":39,"p":24},{"t":38,"i":25,"u":39,"p":25},{"t":38,"i":26,"u":39,"p":26},{"t":38,"i":27,"u":39,"p":27},{"t":38,"i":28,"u":39,"p":28},{"t":38,"i":29,"u":39,"p":29},
{"t":39,"i":0,"u":40,"p":0},{"t":39,"i":1,"u":40,"p":0},{"t":39,"i":2,"u":40,"p":2},{"t":39,"i":3,"u":40,"p":3},{"t":39,"i":4,"u":40,"p":5},{"t":39,"i":5,"u":40,"p":6},{"t":39,"i":6,"u":40,"p":7},{"t":39,"i":7,"u":40,"p":8},{"t":39,"i":8,"u":40,"p":10},{"t":39,"i":9,"u":40,"p":11},{"t":39,"i":10,"u":40,"p":12},{"t":39,"i":11,"u":40,"p":13},{"t":39,"i":12,"u":40,"p":14},{"t":39,"i":13,"u":40,"p":14},{"t":39,"i":14,"u":40,"p":15},{"t":39,"i":15,"u":40,"p":16},{"t":39,"i":16,"u":40,"p":17},{"t":39,"i":17,"u":40,"p":18},{"t":39,"i":18,"u":40,"p":20},{"t":39,"i":19,"u":40,"p":21},{"t":39,"i":20,"u":40,"p":22},{"t":39,"i":21,"u":40,"p":22},{"t":39,"i":22,"u":40,"p":23},{"t":39,"i":23,"u":40,"p":25},{"t":39,"i":24,"u":40,"p":26},{"t":39,"i":25,"u":40,"p":27},{"t":39,"i":26,"u":40,"p":27},{"t":39,"i":27,"u":40,"p":28},{"t":39,"i":28,"u":40,"p":29},{"t":39,"i":29,"u":40,"p":29},
{"t":40,"i":0,"u":41,"p":0},{"t":40,"i":1,"u":41,"p":0},{"t":40,"i":2,"u":41,"p":1},{"t":40,"i":3,"u":41,"p":3},{"t":40,"i":4,"u":41,"p":4},{"t":40,"i":5,"u":41,"p":5},{"t":40,"i":6,"u":41,"p":6},{"t":40,"i":7,"u":41,"p":6},{"t":40,"i":8,"u":41,"p":8},{"t":40,"i":9,"u":41,"p":9},{"t":40,"i":10,"u":41,"p":10},{"t":40,"i":11,"u":41,"p":11},{"t":40,"i":12,"u":41,"p":12},{"t":40,"i":13,"u":41,"p":12},{"t":40,"i":14,"u":41,"p":13},{"t":40,"i":15,"u":41,"p":13},{"t":40,"i":16,"u":41,"p":14},{"t":40,"i":17,"u":41,"p":16},{"t":40,"i":18,"u":41,"p":17},{"t":40,"i":19,"u":41,"p":19},{"t":40,"i":20,"u":41,"p":20},{"t":40,"i":21,"u":41,"p":21},{"t":40,"i":22,"u":41,"p":22},{"t":40,"i":23,"u":41,"p":22},{"t":40,"i":24,"u":41,"p":24},{"t":40,"i":25,"u":41,"p":25},{"t":40,"i":26,"u":41,"p":26},{"t":40,"i":27,"u":41,"p":26},{"t":40,"i":28,"u":41,"p":28},{"t":40,"i":29,"u":41,"p":29},
{"t":41,"i":0,"u":42,"p":0},{"t":41,"i":1,"u":42,"p":1},{"t":41,"i":2,"u":42,"p":2},{"t":41,"i":3,"u":42,"p":3},{"t":41,"i":4,"u":42,"p":4},{"t":41,"i":5,"u":42,"p":6},{"t":41,"i":6,"u":42,"p":7},{"t":41,"i":7,"u":42,"p":9},{"t":41,"i":8,"u":42,"p":11},{"t":41,"i":9,"u":42,"p":13},{"t":41,"i":10,"u":42,"p":14},{"t":41,"i":11,"u":42,"p":16},{"t":41,"i":12,"u":42,"p":17},{"t":41,"i":13,"u":42,"p":19},{"t":41,"i":14,"u":42,"p":19},{"t":41,"i":15,"u":42,"p":20},{"t":41,"i":16,"u":42,"p":21},{"t":41,"i":17,"u":42,"p":22},{"t":41,"i":18,"u":42,"p":23},{"t":41,"i":19,"u":42,"p":24},{"t":41,"i":20,"u":42,"p":24},{"t":41,"i":21,"u":42,"p":25},{"t":41,"i":22,"u":42,"p":25},{"t":41,"i":23,"u":42,"p":26},{"t":41,"i":24,"u":42,"p":26},{"t":41,"i":25,"u":42,"p":27},{"t":41,"i":26,"u":42,"p":27},{"t":41,"i":27,"u":42,"p":28},{"t":41,"i":28,"u":42,"p":28},{"t":41,"i":29,"u":42,"p":29},
{"t":42,"i":0,"u":43,"p":0},{"t":42,"i":1,"u":43,"p":1},{"t":42,"i":2,"u":43,"p":1},{"t":42,"i":3,"u":43,"p":3},{"t":42,"i":4,"u":43,"p":4},{"t":42,"i":5,"u":43,"p":4},{"t":42,"i":6,"u":43,"p":6},{"t":42,"i":7,"u":43,"p":7},{"t":42,"i":8,"u":43,"p":7},{"t":42,"i":9,"u":43,"p":9},{"t":42,"i":10,"u":43,"p":10},{"t":42,"i":11,"u":43,"p":12},{"t":42,"i":12,"u":43,"p":12},{"t":42,"i":13,"u":43,"p":13},{"t":42,"i":14,"u":43,"p":15},{"t":42,"i":15,"u":43,"p":16},{"t":42,"i":16,"u":43,"p":16},{"t":42,"i":17,"u":43,"p":18},{"t":42,"i":18,"u":43,"p":19},{"t":42,"i":19,"u":43,"p":20},{"t":42,"i":20,"u":43,"p":21},{"t":42,"i":21,"u":43,"p":22},{"t":42,"i":22,"u":43,"p":23},{"t":42,"i":23,"u":43,"p":24},{"t":42,"i":24,"u":43,"p":24},{"t":42,"i":25,"u":43,"p":26},{"t":42,"i":26,"u":43,"p":27},{"t":42,"i":27,"u":43,"p":28},{"t":42,"i":28,"u":43,"p":28},{"t":42,"i":29,"u":43,"p":29},
{"t":43,"i":0,"u":44,"p":1},{"t":43,"i":1,"u":44,"p":2},{"t":43,"i":2,"u":44,"p":2},{"t":43,"i":3,"u":44,"p":3},{"t":43,"i":4,"u":44,"p":4},{"t":43,"i":5,"u":44,"p":6},{"t":43,"i":6,"u":44,"p":7},{"t":43,"i":7,"u":44,"p":8},{"t":43,"i":8,"u":44,"p":8},{"t":43,"i":9,"u":44,"p":9},{"t":43,"i":10,"u":44,"p":11},{"t":43,"i":11,"u":44,"p":12},{"t":43,"i":12,"u":44,"p":13},{"t":43,"i":13,"u":44,"p":14},{"t":43,"i":14,"u":44,"p":14},{"t":43,"i":15,"u":44,"p":15},{"t":43,"i":16,"u":44,"p":16},{"t":43,"i":17,"u":44,"p":18},{"t":43,"i":18,"u":44,"p":19},{"t":43,"i":19,"u":44,"p":19},{"t":43,"i":20,"u":44,"p":20},{"t":43,"i":21,"u":44,"p":21},{"t":43,"i":22,"u":44,"p":22},{"t":43,"i":23,"u":44,"p":24},{"t":43,"i":24,"u":44,"p":25},{"t":43,"i":25,"u":44,"p":26},{"t":43,"i":26,"u":44,"p":26},{"t":43,"i":27,"u":44,"p":27},{"t":43,"i":28,"u":44,"p":29},{"t":43,"i":29,"u":44,"p":29},
{"t":44,"i":0,"u":45,"p":0},{"t":44,"i":1,"u":45,"p":0},{"t":44,"i":2,"u":45,"p":1},{"t":44,"i":3,"u":45,"p":3},{"t":44,"i":4,"u":45,"p":4},{"t":44,"i":5,"u":45,"p":5},{"t":44,"i":6,"u":45,"p":5},{"t":44,"i":7,"u":45,"p":7},{"t":44,"i":8,"u":45,"p":8},{"t":44,"i":9,"u":45,"p":10},{"t":44,"i":10,"u":45,"p":11},{"t":44,"i":11,"u":45,"p":11},{"t":44,"i":12,"u":45,"p":12},{"t":44,"i":13,"u":45,"p":13},{"t":44,"i":14,"u":45,"p":15},{"t":44,"i":15,"u":45,"p":16},{"t":44,"i":16,"u":45,"p":17},{"t":44,"i":17,"u":45,"p":17},{"t":44,"i":18,"u":45,"p":18},{"t":44,"i":19,"u":45,"p":18},{"t":44,"i":20,"u":45,"p":19},{"t":44,"i":21,"u":45,"p":21},{"t":44,"i":22,"u":45,"p":23},{"t":44,"i":23,"u":45,"p":24},{"t":44,"i":24,"u":45,"p":25},{"t":44,"i":25,"u":45,"p":26},{"t":44,"i":26,"u":45,"p":27},{"t":44,"i":27,"u":45,"p":27},{"t":44,"i":28,"u":45,"p":28},{"t":44,"i":29,"u":45,"p":29},
{"t":45,"i":0,"u":46,"p":1},{"t":45,"i":1,"u":46,"p":2},{"t":45,"i":2,"u":46,"p":2},{"t":45,"i":3,"u":46,"p":3},{"t":45,"i":4,"u":46,"p":5},{"t":45,"i":5,"u":46,"p":6},{"t":45,"i":6,"u":46,"p":6},{"t":45,"i":7,"u":46,"p":8},{"t":45,"i":8,"u":46,"p":9},{"t":45,"i":9,"u":46,"p":10},{"t":45,"i":10,"u":46,"p":12},{"t":45,"i":11,"u":46,"p":12},{"t":45,"i":12,"u":46,"p":13},{"t":45,"i":13,"u":46,"p":14},{"t":45,"i":14,"u":46,"p":16},{"t":45,"i":15,"u":46,"p":17},{"t":45,"i":16,"u":46,"p":17},{"t":45,"i":17,"u":46,"p":18},{"t":45,"i":18,"u":46,"p":19},{"t":45,"i":19,"u":46,"p":19},{"t":45,"i":20,"u":46,"p":20},{"t":45,"i":21,"u":46,"p":21},{"t":45,"i":22,"u":46,"p":22},{"t":45,"i":23,"u":46,"p":23},{"t":45,"i":24,"u":46,"p":23},{"t":45,"i":25,"u":46,"p":24},{"t":45,"i":26,"u":46,"p":26},{"t":45,"i":27,"u":46,"p":27},{"t":45,"i":28,"u":46,"p":27},{"t":45,"i":29,"u":46,"p":28},
{"t":46,"i":0,"u":47,"p":0},{"t":46,"i":1,"u":47,"p":1},{"t":46,"i":2,"u":47,"p":3},{"t":46,"i":3,"u":47,"p":3},{"t":46,"i":4,"u":47,"p":5},{"t":46,"i":5,"u":47,"p":6},{"t":46,"i":6,"u":47,"p":6},{"t":46,"i":7,"u":47,"p":8},{"t":46,"i":8,"u":47,"p":9},{"t":46,"i":9,"u":47,"p":11},{"t":46,"i":10,"u":47,"p":11},{"t":46,"i":11,"u":47,"p":13},{"t":46,"i":12,"u":47,"p":14},{"t":46,"i":13,"u":47,"p":14},{"t":46,"i":14,"u":47,"p":16},{"t":46,"i":15,"u":47,"p":17},{"t":46,"i":16,"u":47,"p":18},{"t":46,"i":17,"u":47,"p":18},{"t":46,"i":18,"u":47,"p":20},{"t":46,"i":19,"u":47,"p":21},{"t":46,"i":20,"u":47,"p":22},{"t":46,"i":21,"u":47,"p":23},{"t":46,"i":22,"u":47,"p":25},{"t":46,"i":23,"u":47,"p":25},{"t":46,"i":24,"u":47,"p":26},{"t":46,"i":25,"u":47,"p":27},{"t":46,"i":26,"u":47,"p":28},{"t":46,"i":27,"u":47,"p":28},{"t":46,"i":28,"u":47,"p":29},{"t":46,"i":29,"u":47,"p":29},
{"t":47,"i":0,"u":48,"p":0},{"t":47,"i":1,"u":48,"p":0},{"t":47,"i":2,"u":48,"p":1},{"t":47,"i":3,"u":48,"p":2},{"t":47,"i":4,"u":48,"p":4},{"t":47,"i":5,"u":48,"p":5},{"t":47,"i":6,"u":48,"p":6},{"t":47,"i":7,"u":48,"p":6},{"t":47,"i":8,"u":48,"p":7},{"t":47,"i":9,"u":48,"p":9},{"t":47,"i":10,"u":48,"p":10},{"t":47,"i":11,"u":48,"p":11},{"t":47,"i":12,"u":48,"p":12},{"t":47,"i":13,"u":48,"p":13},{"t":47,"i":14,"u":48,"p":14},{"t":47,"i":15,"u":48,"p":15},{"t":47,"i":16,"u":48,"p":15},{"t":47,"i":17,"u":48,"p":16},{"t":47,"i":18,"u":48,"p":18},{"t":47,"i":19,"u":48,"p":19},{"t":47,"i":20,"u":48,"p":20},{"t":47,"i":21,"u":48,"p":21},{"t":47,"i":22,"u":48,"p":22},{"t":47,"i":23,"u":48,"p":23},{"t":47,"i":24,"u":48,"p":24},{"t":47,"i":25,"u":48,"p":24},{"t":47,"i":26,"u":48,"p":25},{"t":47,"i":27,"u":48,"p":27},{"t":47,"i":28,"u":48,"p":28},{"t":47,"i":29,"u":48,"p":29},
{"t":48,"i":0,"u":49,"p":1},{"t":48,"i":1,"u":49,"p":1},{"t":48,"i":2,"u":49,"p":2},{"t":48,"i":3,"u":49,"p":4},{"t":48,"i":4,"u":49,"p":5},{"t":48,"i":5,"u":49,"p":6},{"t":48,"i":6,"u":49,"p":6},{"t":48,"i":7,"u":49,"p":7},{"t":48,"i":8,"u":49,"p":9},{"t":48,"i":9,"u":49,"p":10},{"t":48,"i":10,"u":49,"p":11},{"t":48,"i":11,"u":49,"p":11},{"t":48,"i":12,"u":49,"p":13},{"t":48,"i":13,"u":49,"p":14},{"t":48,"i":14,"u":49,"p":14},{"t":48,"i":15,"u":49,"p":15},{"t":48,"i":16,"u":49,"p":17},{"t":48,"i":17,"u":49,"p":18},{"t":48,"i":18,"u":49,"p":18},{"t":48,"i":19,"u":49,"p":19},{"t":48,"i":20,"u":49,"p":20},{"t":48,"i":21,"u":49,"p":20},{"t":48,"i":22,"u":49,"p":21},{"t":48,"i":23,"u":49,"p":22},{"t":48,"i":24,"u":49,"p":22},{"t":48,"i":25,"u":49,"p":23},{"t":48,"i":26,"u":49,"p":25},{"t":48,"i":27,"u":49,"p":26},{"t":48,"i":28,"u":49,"p":27},{"t":48,"i":29,"u":49,"p":28},
{"t":49,"i":0,"u":50,"p":0},{"t":49,"i":1,"u":50,"p":1},{"t":49,"i":2,"u":50,"p":1},{"t":49,"i":3,"u":50,"p":2},{"t":49,"i":4,"u":50,"p":4},{"t":49,"i":5,"u":50,"p":5},{"t":49,"i":6,"u":50,"p":6},{"t":49,"i":7,"u":50,"p":6},{"t":49,"i":8,"u":50,"p":8},{"t":49,"i":9,"u":50,"p":9},{"t":49,"i":10,"u":50,"p":10},{"t":49,"i":11,"u":50,"p":11},{"t":49,"i":12,"u":50,"p":11},{"t":49,"i":13,"u":50,"p":12},{"t":49,"i":14,"u":50,"p":14},{"t":49,"i":15,"u":50,"p":15},{"t":49,"i":16,"u":50,"p":15},{"t":49,"i":17,"u":50,"p":16},{"t":49,"i":18,"u":50,"p":16},{"t":49,"i":19,"u":50,"p":16},{"t":49,"i":20,"u":50,"p":16},{"t":49,"i":21,"u":50,"p":17},{"t":49,"i":22,"u":50,"p":19},{"t":49,"i":23,"u":50,"p":21},{"t":49,"i":24,"u":50,"p":22},{"t":49,"i":25,"u":50,"p":24},{"t":49,"i":26,"u":50,"p":25},{"t":49,"i":27,"u":50,"p":26},{"t":49,"i":28,"u":50,"p":27},{"t":49,"i":29,"u":50,"p":29},
{"t":50,"i":0},{"t":50,"i":1},{"t":50,"i":2},{"t":50,"i":3},{"t":50,"i":4},{"t":50,"i":5},{"t":50,"i":6},{"t":50,"i":7},{"t":50,"i":8},{"t":50,"i":9},{"t":50,"i":10},{"t":50,"i":11},{"t":50,"i":12},{"t":50,"i":13},{"t":50,"i":14},{"t":50,"i":15},{"t":50,"i":16},{"t":50,"i":17},{"t":50,"i":18},{"t":50,"i":19},{"t":50,"i":20},{"t":50,"i":21},{"t":50,"i":22},{"t":50,"i":23},{"t":50,"i":24},{"t":50,"i":25},{"t":50,"i":26},{"t":50,"i":27},{"t":50,"i":28},{"t":50,"i":29}
],
"blue": [
{"t":0,"i":0,"u":1,"p":0},{"t":0,"i":2,"u":1,"p":1},{"t":0,"i":6,"u":1,"p":4},{"t":0,"i":7,"u":1,"p":6},{"t":0,"i":9,"u":1,"p":9},{"t":0,"i":19,"u":1,"p":19},{"t":0,"i":20,"u":1,"p":20},{"t":0,"i":21,"u":1,"p":21},{"t":0,"i":26,"u":1,"p":26},{"t":0,"i":27,"u":1,"p":27},
{"t":1,"i":0,"u":2,"p":3},{"t":1,"i":1,"u":2,"p":3},{"t":1,"i":4,"u":2,"p":4},{"t":1,"i":6,"u":2,"p":5},{"t":1,"i":9,"u":2,"p":9},{"t":1,"i":19,"u":2,"p":23},{"t":1,"i":20,"u":2,"p":23},{"t":1,"i":21,"u":2,"p":23},{"t":1,"i":26,"u":2,"p":27},{"t":1,"i":27,"u":2,"p":28},
{"t":2,"i":3,"u":3,"p":4},{"t":2,"i":4,"u":3,"p":4},{"t":2,"i":5,"u":3,"p":6},{"t":2,"i":9,"u":3,"p":11},{"t":2,"i":23,"u":3,"p":24},{"t":2,"i":27,"u":3,"p":28},{"t":2,"i":28,"u":3,"p":28},
{"t":3,"i":4,"u":4,"p":5},{"t":3,"i":6,"u":4,"p":9},{"t":3,"i":11,"u":4,"p":19},{"t":3,"i":24,"u":4,"p":26},{"t":3,"i":28,"u":4,"p":27},
{"t":4,"i":5,"u":5,"p":4},{"t":4,"i":9,"u":5,"p":10},{"t":4,"i":19,"u":5,"p":23},{"t":4,"i":26,"u":5,"p":28},{"t":4,"i":27,"u":5,"p":29},
{"t":5,"i":4,"u":6,"p":5},{"t":5,"i":10,"u":6,"p":12},{"t":5,"i":23,"u":6,"p":26},{"t":5,"i":28,"u":6,"p":29},{"t":5,"i":29,"u":6,"p":29},
{"t":6,"i":5,"u":7,"p":2},{"t":6,"i":12,"u":7,"p":9},{"t":6,"i":26,"u":7,"p":24},{"t":6,"i":29,"u":7,"p":28},
{"t":7,"i":2,"u":8,"p":1},{"t":7,"i":9,"u":8,"p":6},{"t":7,"i":24,"u":8,"p":26},{"t":7,"i":28,"u":8,"p":28},
{"t":8,"i":1,"u":9,"p":0},{"t":8,"i":6,"u":9,"p":4},{"t":8,"i":26,"u":9,"p":25},{"t":8,"i":28,"u":9,"p":26},
{"t":9,"i":0,"u":10,"p":0},{"t":9,"i":4,"u":10,"p":2},{"t":9,"i":25,"u":10,"p":26},{"t":9,"i":26,"u":10,"p":27},
{"t":10,"i":0,"u":11,"p":0},{"t":10,"i":2,"u":11,"p":3},{"t":10,"i":26,"u":11,"p":24},{"t":10,"i":27,"u":11,"p":29},
{"t":11,"i":0,"u":12,"p":0},{"t":11,"i":3,"u":12,"p":1},{"t":11,"i":24,"u":12,"p":22},{"t":11,"i":29,"u":12,"p":27},
{"t":12,"i":0,"u":13,"p":1},{"t":12,"i":1,"u":13,"p":1},{"t":12,"i":22,"u":13,"p":18},{"t":12,"i":27,"u":13,"p":24},
{"t":13,"i":1,"u":14,"p":0},{"t":13,"i":18,"u":14,"p":18},{"t":13,"i":24,"u":14,"p":27},
{"t":14,"i":0,"u":15,"p":0},{"t":14,"i":18,"u":15,"p":17},{"t":14,"i":27,"u":15,"p":25},
{"t":15,"i":0,"u":16,"p":0},{"t":15,"i":17,"u":16,"p":6},{"t":15,"i":25,"u":16,"p":8},
{"t":16,"i":0,"u":17,"p":0},{"t":16,"i":6,"u":17,"p":4},{"t":16,"i":8,"u":17,"p":7},
{"t":17,"i":0,"u":18,"p":2},{"t":17,"i":4,"u":18,"p":5},{"t":17,"i":7,"u":18,"p":6},
{"t":18,"i":2,"u":19,"p":1},{"t":18,"i":5,"u":19,"p":6},{"t":18,"i":6,"u":19,"p":7},
{"t":19,"i":1,"u":20,"p":1},{"t":19,"i":6,"u":20,"p":5},{"t":19,"i":7,"u":20,"p":5},
{"t":20,"i":1,"u":21,"p":0},{"t":20,"i":5,"u":21,"p":3},
{"t":21,"i":0,"u":22,"p":0},{"t":21,"i":3,"u":22,"p":3},
{"t":22,"i":0,"u":23,"p":0},{"t":22,"i":3,"u":23,"p":2},
{"t":23,"i":0,"u":24,"p":0},{"t":23,"i":2,"u":24,"p":2},
{"t":24,"i":0,"u":25,"p":1},{"t":24,"i":2,"u":25,"p":5},
{"t":25,"i":1,"u":26,"p":0},{"t":25,"i":5,"u":26,"p":3},
{"t":26,"i":0,"u":27,"p":2},{"t":26,"i":3,"u":27,"p":6},
{"t":27,"i":2,"u":28,"p":3},{"t":27,"i":6,"u":28,"p":6},
{"t":28,"i":3,"u":29,"p":2},{"t":28,"i":6,"u":29,"p":4},
{"t":29,"i":2,"u":30,"p":1},{"t":29,"i":4,"u":30,"p":6},
{"t":30,"i":1,"u":31,"p":4},{"t":30,"i":6,"u":31,"p":17},
{"t":31,"i":4,"u":32,"p":7},{"t":31,"i":17,"u":32,"p":17},
{"t":32,"i":7,"u":33,"p":11},{"t":32,"i":17,"u":33,"p":20},
{"t":33,"i":11,"u":34,"p":15},{"t":33,"i":20,"u":34,"p":22},
{"t":34,"i":15,"u":35,"p":15},{"t":34,"i":22,"u":35,"p":23},
{"t":35,"i":15,"u":36,"p":12},{"t":35,"i":23,"u":36,"p":23},
{"t":36,"i":12,"u":37,"p":11},{"t":36,"i":23,"u":37,"p":22},
{"t":37,"i":11,"u":38,"p":9},{"t":37,"i":22,"u":38,"p":18},
{"t":38,"i":9,"u":39,"p":14},{"t":38,"i":18,"u":39,"p":17},
{"t":39,"i":14,"u":40,"p":15},{"t":39,"i":17,"u":40,"p":18},
{"t":40,"i":15,"u":41,"p":13},{"t":40,"i":18,"u":41,"p":17},
{"t":41,"i":13,"u":42,"p":19},{"t":41,"i":17,"u":42,"p":22},
{"t":42,"i":19,"u":43,"p":20},{"t":42,"i":22,"u":43,"p":23},
{"t":43,"i":20,"u":44,"p":20},{"t":43,"i":23,"u":44,"p":24},
{"t":44,"i":20,"u":45,"p":19},{"t":44,"i":24,"u":45,"p":25},
{"t":45,"i":19,"u":46,"p":19},{"t":45,"i":25,"u":46,"p":24},
{"t":46,"i":19,"u":47,"p":21},{"t":46,"i":24,"u":47,"p":26},
{"t":47,"i":21,"u":48,"p":21},{"t":47,"i":26,"u":48,"p":25},
{"t":48,"i":21,"u":49,"p":20},{"t":48,"i":25,"u":49,"p":23},
{"t":49,"i":20,"u":50,"p":16},{"t":49,"i":23,"u":50,"p":21},
{"t":50,"i":16},{"t":50,"i":21}
]
},
"layer": [
{
 "data": {"name": "gray"},
 "transform": [{"filter": "isValid(datum.u)"}],
 "mark": {"type": "rule", "color": "#bfbfbf", "strokeWidth": 2},
 "encoding": {
  "x": {"field": "t", "type": "quantitative", "scale": {"domain": [-1, 51], "nice": false, "zero": false},
        "axis": {"orient": "bottom", "values": [0, 10, 20, 30, 40, 50], "tickSize": -6, "labelPadding": 10, "labelFlush": false, "title": "Time [Generations into the Past]", "titlePadding": 11}},
  "x2": {"field": "u"},
  "y": {"field": "i", "type": "quantitative", "scale": {"domain": [-1, 30], "nice": false, "zero": false},
        "axis": {"orient": "left", "values": [0, 5, 10, 15, 20, 25, 30], "tickSize": -6, "labelPadding": 7, "labelFlush": false, "title": "30 Individuals", "titlePadding": 15}},
  "y2": {"field": "p"}
 }
},
{
 "data": {"name": "gray"},
 "mark": {"type": "circle", "size": 38, "color": "#bfbfbf", "opacity": 1},
 "encoding": {
  "x": {"field": "t", "type": "quantitative", "scale": {"domain": [-1, 51], "nice": false, "zero": false},
        "axis": {"orient": "top", "values": [0, 10, 20, 30, 40, 50], "tickSize": -6, "labels": false, "title": null}},
  "y": {"field": "i", "type": "quantitative", "scale": {"domain": [-1, 30], "nice": false, "zero": false},
        "axis": {"orient": "right", "values": [0, 5, 10, 15, 20, 25, 30], "tickSize": -6, "labels": false, "title": null}}
 }
},
{
 "data": {"name": "blue"},
 "transform": [{"filter": "isValid(datum.u)"}],
 "mark": {"type": "rule", "color": "#0a28ff", "strokeWidth": 2},
 "encoding": {
  "x": {"field": "t", "type": "quantitative", "axis": null},
  "x2": {"field": "u"},
  "y": {"field": "i", "type": "quantitative", "axis": null},
  "y2": {"field": "p"}
 }
},
{
 "data": {"name": "blue"},
 "mark": {"type": "circle", "size": 55, "color": "#0a28ff", "opacity": 1},
 "encoding": {
  "x": {"field": "t", "type": "quantitative", "axis": null},
  "y": {"field": "i", "type": "quantitative", "axis": null}
 }
}
],
"resolve": {"axis": {"x": "independent", "y": "independent"}}
}
